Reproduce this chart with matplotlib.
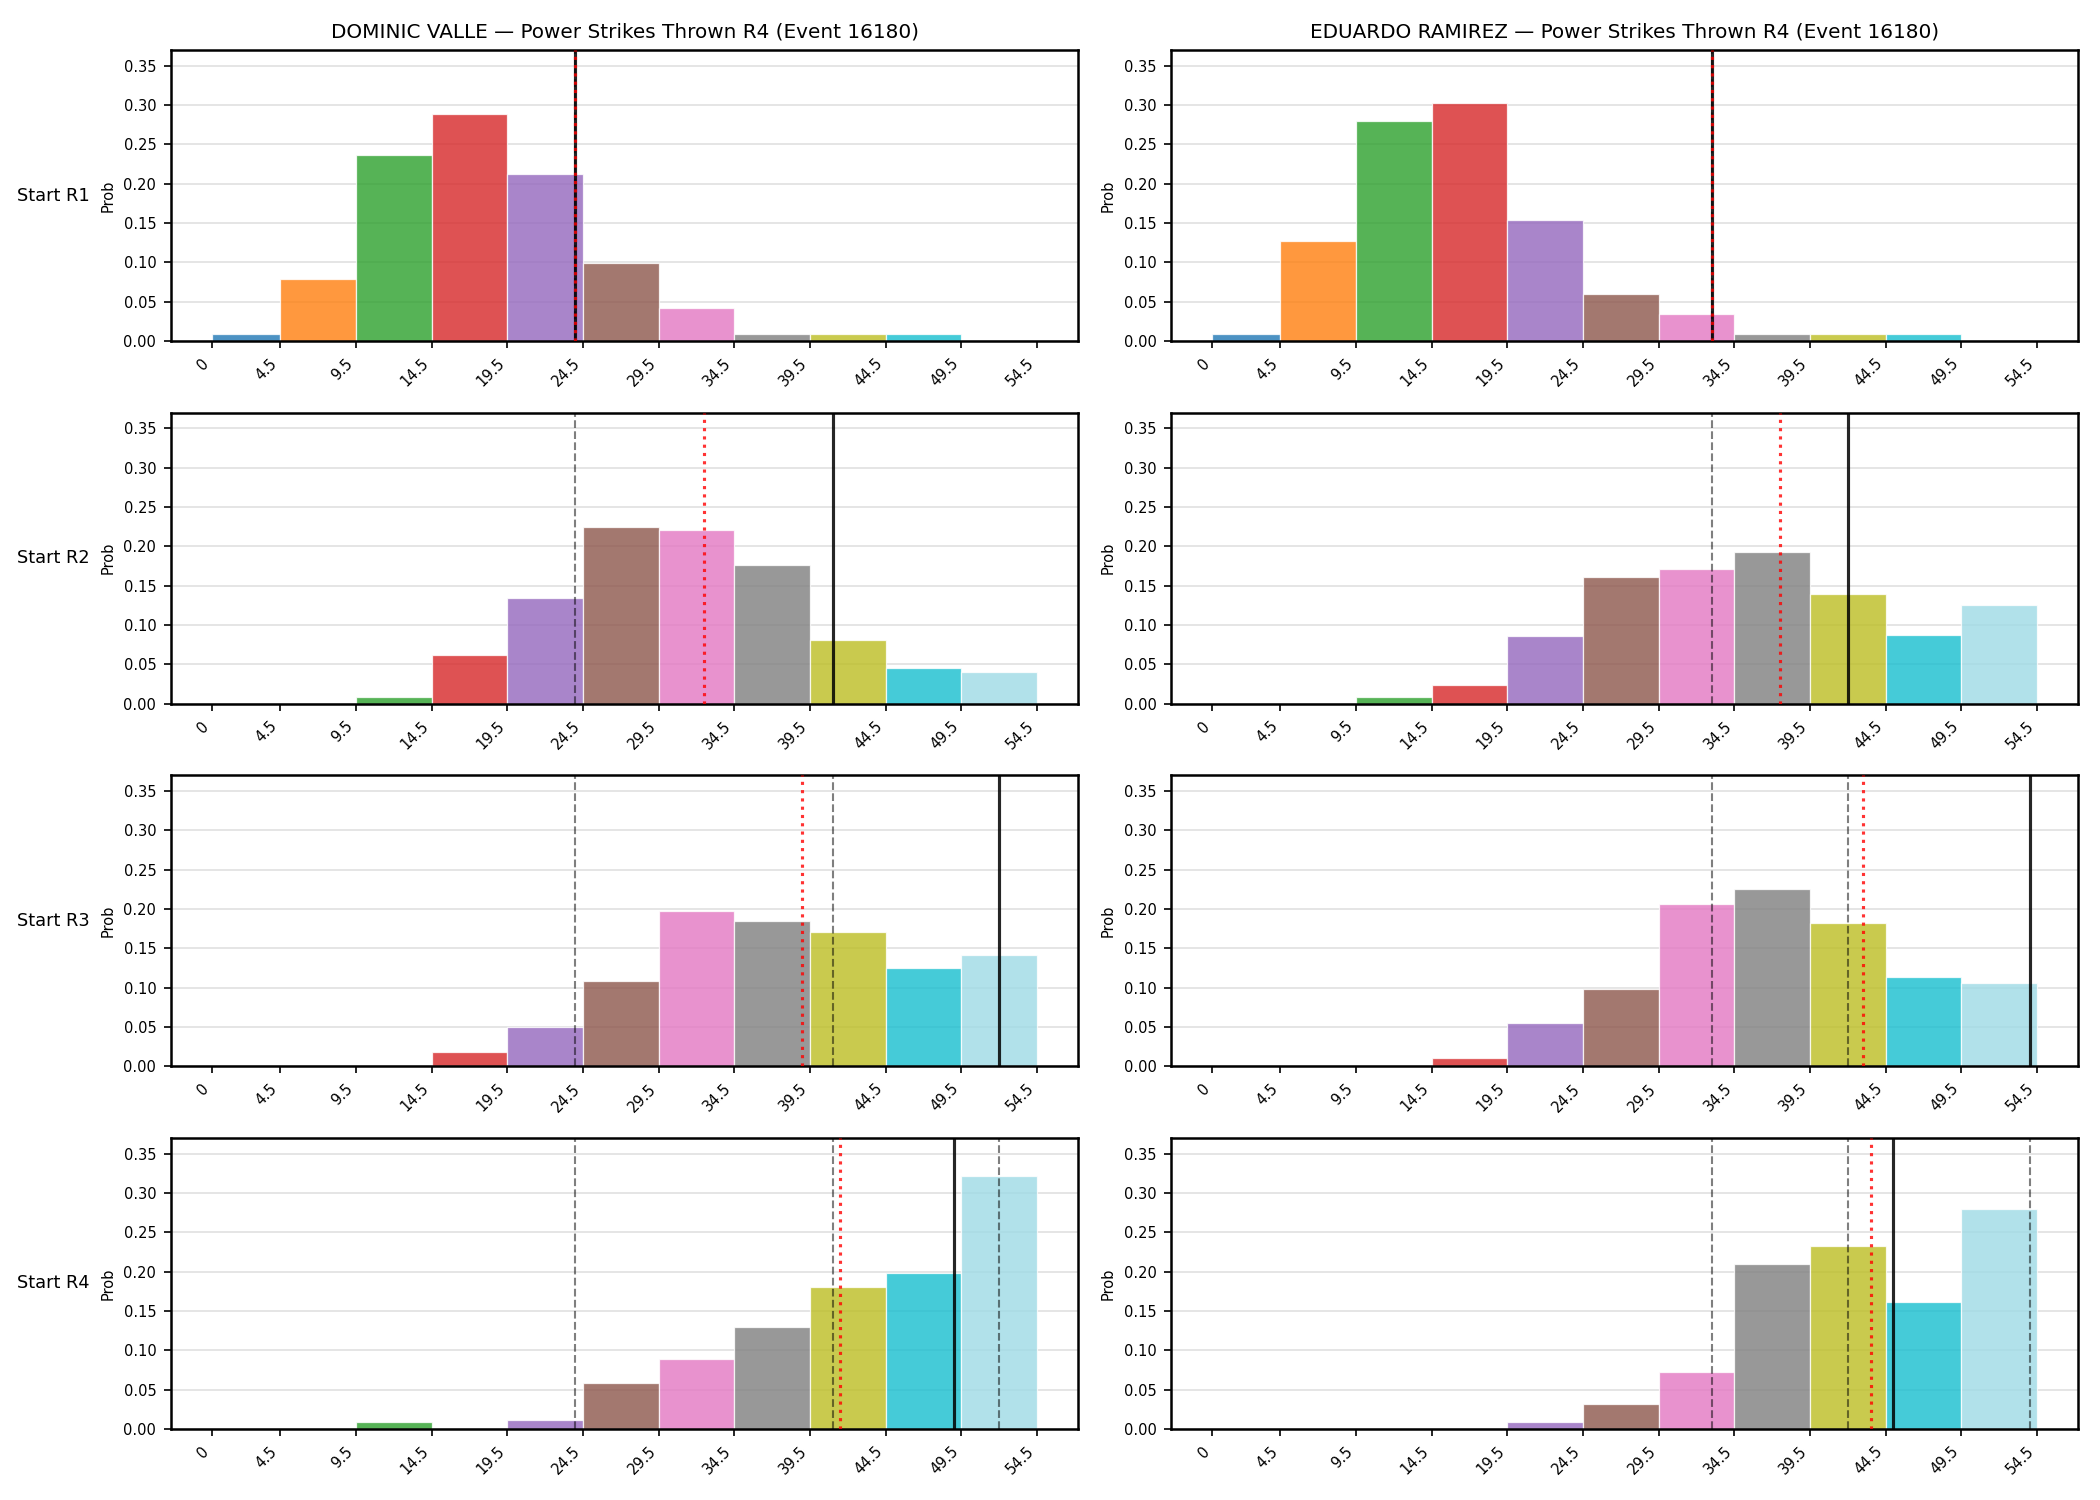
import matplotlib
matplotlib.use("Agg")
import matplotlib.pyplot as plt
import numpy as np

bin_edges = [0, 4.5, 9.5, 14.5, 19.5, 24.5, 29.5, 34.5, 39.5, 44.5, 49.5, 54.5]
tick_labels = ["0", "4.5", "9.5", "14.5", "19.5", "24.5", "29.5", "34.5", "39.5", "44.5", "49.5", "54.5"]
bar_colors = ["#1f77b4", "#ff7f0e", "#2ca02c", "#d62728", "#9467bd", "#8c564b",
              "#e377c2", "#7f7f7f", "#bcbd22", "#17becf", "#9edae5"]

fighters = ["DOMINIC VALLE", "EDUARDO RAMIREZ"]
row_labels = ["Start R1", "Start R2", "Start R3", "Start R4"]

# probabilities per bin, per starting round
valle_probs = [
    [0.0093, 0.079, 0.237, 0.289, 0.212, 0.099, 0.042, 0.0093, 0.0093, 0.0093, 0.0],
    [0.0, 0.0, 0.0093, 0.062, 0.134, 0.225, 0.221, 0.176, 0.081, 0.045, 0.041],
    [0.0, 0.0, 0.0, 0.0185, 0.050, 0.108, 0.198, 0.185, 0.171, 0.125, 0.141],
    [0.0, 0.0, 0.0095, 0.0, 0.011, 0.058, 0.089, 0.130, 0.180, 0.198, 0.321],
]
ramirez_probs = [
    [0.0093, 0.127, 0.280, 0.303, 0.154, 0.060, 0.034, 0.0093, 0.0093, 0.0093, 0.0],
    [0.0, 0.0, 0.0093, 0.0233, 0.086, 0.161, 0.171, 0.193, 0.139, 0.087, 0.126],
    [0.0, 0.0, 0.0, 0.011, 0.055, 0.098, 0.206, 0.226, 0.182, 0.113, 0.106],
    [0.0, 0.0, 0.0, 0.0, 0.0095, 0.0313, 0.073, 0.210, 0.233, 0.161, 0.280],
]

# actual value at each start (solid), model reference (red dotted)
valle_actual = [24, 41, 52, 49]
valle_ref = [24, 32.5, 39, 41.5]
ramirez_actual = [33, 42, 54, 45]
ramirez_ref = [33, 37.5, 43, 43.5]

probs_all = [valle_probs, ramirez_probs]
actual_all = [valle_actual, ramirez_actual]
ref_all = [valle_ref, ramirez_ref]

fig, axes = plt.subplots(4, 2, figsize=(14, 10), dpi=150)
fig.subplots_adjust(left=0.0814, right=0.9897, top=0.9667, bottom=0.0473,
                    wspace=0.1025, hspace=0.245)

edges = np.array(bin_edges)
lefts = edges[:-1]
widths = np.diff(edges)
yt = np.arange(0, 0.36, 0.05)

for c in range(2):
    for r in range(4):
        ax = axes[r, c]
        ax.bar(lefts, probs_all[c][r], width=widths, align="edge",
               color=bar_colors, alpha=0.8, edgecolor="white", linewidth=0.6, zorder=2)
        # previous starts' actuals as dashed lines
        prev = actual_all[c][:r] if r > 0 else actual_all[c][:1]
        for v in prev:
            ax.axvline(v, color="black", linestyle="--",
                       linewidth=1.0, alpha=0.5, zorder=3)
        ax.axvline(actual_all[c][r], color="black", linestyle="-",
                   linewidth=1.5, alpha=0.85, zorder=4)
        ax.axvline(ref_all[c][r], color="red", linestyle=":",
                   linewidth=1.5, alpha=0.8, zorder=5)
        ax.set_ylim(0, 0.37)
        ax.set_yticks(yt)
        ax.set_yticklabels([f"{v:.2f}" for v in yt], fontsize=7)
        ax.set_xticks(bin_edges)
        ax.set_xticklabels(tick_labels, rotation=45, ha="right", fontsize=7)
        ax.grid(axis="y", color="#e0e0e0", linewidth=0.8, zorder=0)
        ax.set_axisbelow(True)
        ax.set_ylabel("Prob", fontsize=7)
        for s in ax.spines.values():
            s.set_linewidth(1.2)
        if c == 0:
            ax.text(-0.0893, 0.5, row_labels[r], transform=ax.transAxes,
                    ha="right", va="center", fontsize=8.5)
        if r == 0:
            ax.set_title(f"{fighters[c]} \u2014 Power Strikes Thrown R4 (Event 16180)", fontsize=9.6)

fig.savefig("out.png", dpi=150)
